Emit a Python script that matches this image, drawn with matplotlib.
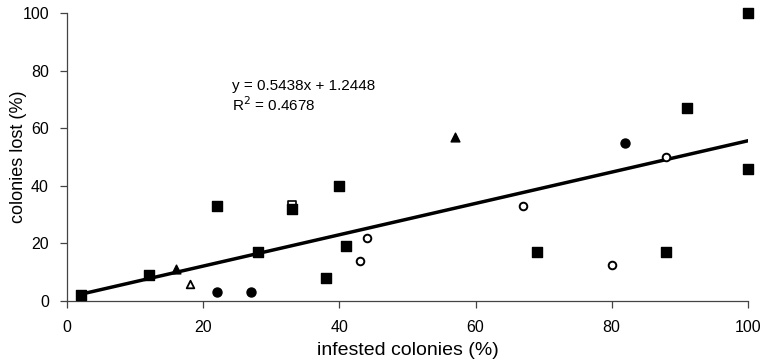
import matplotlib
matplotlib.use("Agg")
import matplotlib.pyplot as plt
import numpy as np

plt.rcParams['font.family'] = ['Liberation Sans', 'DejaVu Sans']

sq_x = [2, 12, 22, 28, 33, 38, 40, 41, 69, 88, 91, 100, 100]
sq_y = [2, 9, 33, 17, 32, 8, 40, 19, 17, 17, 67, 46, 100]
osq_x = [33]
osq_y = [33.5]
tri_x = [16, 57]
tri_y = [11, 57]
otri_x = [18]
otri_y = [6]
cir_x = [22, 27, 82]
cir_y = [3, 3, 55]
ocir_x = [43, 44, 67, 80, 88]
ocir_y = [14, 22, 33, 12.5, 50]
slope, intercept = 0.5438, 1.2448
fit_x = [2, 100]

fig = plt.figure(figsize=(7.67, 3.59), dpi=100)
ax = fig.add_axes([0.0874, 0.1616, 0.8876, 0.8022])

ax.plot(fit_x, [slope * v + intercept for v in fit_x], color='black', lw=2.5, zorder=2)
ax.scatter(osq_x, osq_y, marker='s', s=40, facecolor='white', edgecolor='black', lw=1.2, zorder=3, clip_on=False)
ax.scatter(sq_x, sq_y, marker='s', s=48, color='black', zorder=4, clip_on=False)
ax.scatter(tri_x, tri_y, marker='^', s=40, color='black', zorder=4, clip_on=False)
ax.scatter(otri_x, otri_y, marker='^', s=30, facecolor='white', edgecolor='black', lw=1.3, zorder=4, clip_on=False)
ax.scatter(cir_x, cir_y, marker='o', s=42, color='black', zorder=4, clip_on=False)
ax.scatter(ocir_x, ocir_y, marker='o', s=30, facecolor='white', edgecolor='black', lw=1.4, zorder=4, clip_on=False)

ax.text(24.2, 77, 'y = 0.5438x + 1.2448\nR$^2$ = 0.4678', fontsize=11, va='top', ha='left', linespacing=1.15)

ax.set_xlim(0, 100)
ax.set_ylim(0, 100)
ax.set_xticks([0, 20, 40, 60, 80, 100])
ax.set_yticks([0, 20, 40, 60, 80, 100])
ax.spines['top'].set_visible(False)
ax.spines['right'].set_visible(False)
for s in ('left', 'bottom'):
    ax.spines[s].set_color('#444444')
    ax.spines[s].set_linewidth(0.9)
ax.tick_params(direction='out', length=5, width=0.9, color='#444444', labelsize=11.5)
ax.tick_params(axis='y', pad=8)
ax.tick_params(axis='x', pad=9)
ax.set_xlabel('infested colonies (%)', fontsize=14)
ax.set_ylabel('colonies lost (%)', fontsize=13)
ax.xaxis.set_label_coords(0.5, -0.142)
ax.yaxis.set_label_coords(-0.0587, 0.5)

fig.savefig('out.png', dpi=100)
